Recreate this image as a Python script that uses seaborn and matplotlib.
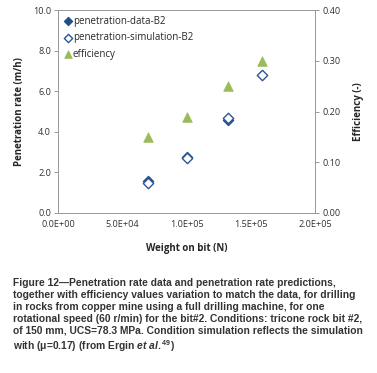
import numpy as np
import pandas as pd
import matplotlib
matplotlib.use("Agg")
import matplotlib.pyplot as plt
import seaborn as sns

# valores
wob_data = [70000, 100000, 132000]
pen_data = [1.58, 2.78, 4.57]
wob_sim = [70000, 100000, 132000, 159000]
pen_sim = [1.50, 2.70, 4.68, 6.80]
wob_eff = [70000, 100000, 132000, 159000]
efficiency = [0.150, 0.190, 0.250, 0.300]

x_ticks = [0, 50000, 100000, 150000, 200000]
x_labels = ["0.0E+00", "5.0E+04", "1.0E+05", "1.5E+05", "2.0E+05"]

caption = ("Figure 12\u2014Penetration rate data and penetration rate predictions,\n"
           "together with efficiency values variation to match the data, for drilling\n"
           "in rocks from copper mine using a full drilling machine, for one\n"
           "rotational speed (60 r/min) for the bit#2. Conditions: tricone rock bit #2,\n"
           "of 150 mm, UCS=78.3 MPa. Condition simulation reflects the simulation\n"
           "with (\u03bc=0.17) (from Ergin $\\it{et\\ al.}$$^{49}$)")

sns.set_style("white")
plt.rcParams["font.family"] = ["Open Sans", "DejaVu Sans"]
plt.rcParams["mathtext.fontset"] = "custom"
plt.rcParams["mathtext.it"] = "Liberation Sans:italic:bold"
plt.rcParams["mathtext.rm"] = "Liberation Sans:bold"

fig = plt.figure(figsize=(3.77, 3.73), dpi=100)
ax = fig.add_axes([0.154, 0.429, 0.682, 0.544])
ax2 = ax.twinx()

df_data = pd.DataFrame({"wob": wob_data, "pen": pen_data})
df_sim = pd.DataFrame({"wob": wob_sim, "pen": pen_sim})
df_eff = pd.DataFrame({"wob": wob_eff, "eff": efficiency})

sns.scatterplot(data=df_data, x="wob", y="pen", ax=ax, marker="D", s=28,
                color="#1F4E8C", edgecolor="#1F4E8C", linewidth=0.8,
                label="penetration-data-B2", zorder=3)
sns.scatterplot(data=df_sim, x="wob", y="pen", ax=ax, marker="D", s=28,
                color="white", edgecolor="#2E5597", linewidth=1.0,
                label="penetration-simulation-B2", zorder=4)
sns.scatterplot(data=df_eff, x="wob", y="eff", ax=ax2, marker="^", s=48,
                color="#9BBB59", edgecolor="#9BBB59", linewidth=0.5,
                label="efficiency", legend=False, zorder=3)

ax.set_xlim(0, 200000)
ax.set_ylim(0, 10)
ax2.set_ylim(0, 0.4)
ax.set_xticks(x_ticks)
ax.set_xticklabels(x_labels)
ax.set_yticks(np.arange(0, 10.1, 2))
ax.set_yticklabels([f"{v:.1f}" for v in np.arange(0, 10.1, 2)])
ax2.set_yticks(np.arange(0, 0.41, 0.1))
ax2.set_yticklabels([f"{v:.2f}" for v in np.arange(0, 0.41, 0.1)])

for a in (ax, ax2):
    a.tick_params(axis="both", labelsize=6.6, length=3, width=0.6,
                  color="#888888", labelcolor="#333333", pad=2, direction="out")
    for sp in a.spines.values():
        sp.set_color("#999999")
        sp.set_linewidth(0.7)

ax.set_xlabel("Weight on bit (N)", fontsize=7, fontweight="bold", labelpad=10)
ax.set_ylabel("Penetration rate (m/h)", fontsize=7, fontweight="bold", labelpad=6)
ax2.set_ylabel("Efficiency (-)", fontsize=7, fontweight="bold", labelpad=9)

# legenda juntando os dois eixos
h1, l1 = ax.get_legend_handles_labels()
h2, l2 = ax2.get_legend_handles_labels()
if ax2.get_legend() is not None:
    ax2.get_legend().remove()
ax.legend(h1 + h2, l1 + l2, loc="upper left", frameon=False, fontsize=7,
          handletextpad=0.0, handlelength=0.9, borderaxespad=0.2,
          labelspacing=0.55, markerscale=0.8, borderpad=0.4)

fig.text(0.034, 0.254, caption, fontsize=7.4, fontweight="bold",
         family=["Liberation Sans", "DejaVu Sans"], color="#333333",
         va="top", ha="left", linespacing=1.22)

fig.savefig("out.png", dpi=100)
